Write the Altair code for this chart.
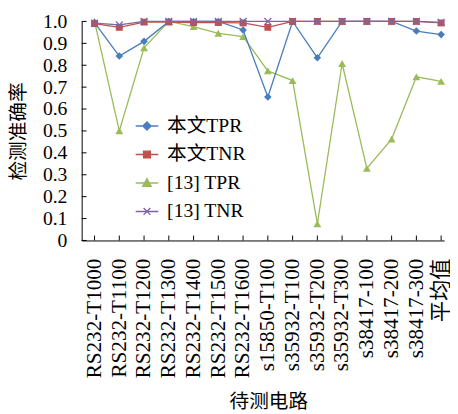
import altair as alt
import pandas as pd

categories = ["RS232-T1000", "RS232-T1100", "RS232-T1200", "RS232-T1300", "RS232-T1400",
              "RS232-T1500", "RS232-T1600", "s15850-T100", "s35932-T100", "s35932-T200",
              "s35932-T300", "s38417-100", "s38417-200", "s38417-300", "平均值"]
ours_tpr = [0.995, 0.842, 0.909, 1.0, 1.0, 1.0, 0.961, 0.655, 1.0, 0.834, 1.0, 1.0, 1.0, 0.956, 0.940]
ours_tnr = [0.990, 0.973, 0.997, 0.997, 0.995, 0.995, 0.993, 0.973, 1.0, 1.0, 1.0, 1.0, 1.0, 1.0, 0.993]
ref_tpr = [1.0, 0.500, 0.879, 1.0, 0.976, 0.946, 0.931, 0.774, 0.730, 0.076, 0.808, 0.329, 0.463, 0.747, 0.726]
ref_tnr = [0.992, 0.984, 1.0, 1.0, 1.0, 1.0, 1.0, 1.0, 1.0, 1.0, 1.0, 1.0, 1.0, 1.0, 0.996]
y_ticks = [0.0, 0.1, 0.2, 0.3, 0.4, 0.5, 0.6, 0.7, 0.8, 0.9, 1.0]

series_names = ["本文TPR", "本文TNR", "[13] TPR", "[13] TNR"]
series_values = [ours_tpr, ours_tnr, ref_tpr, ref_tnr]
colors = ["#4a7ebb", "#c0504d", "#9bbb59", "#8064a2"]
shapes = ["diamond", "square", "triangle-up", "M-1,-1L1,1M1,-1L-1,1"]
sizes = [60, 49, 64, 49]
legend_paths = [
    "M-1,0H1M0,-0.36L0.36,0L0,0.36L-0.36,0Z",
    "M-1,0H1M-0.3,-0.3H0.3V0.3H-0.3Z",
    "M-1,0H1M0,-0.38L0.38,0.3L-0.38,0.3Z",
    "M-1,0H1M-0.3,-0.3L0.3,0.3M0.3,-0.3L-0.3,0.3",
]

rows = []
for name, vals in zip(series_names, series_values):
    for i, v in enumerate(vals):
        rows.append({"idx": i + 1, "series": name, "value": v})
df = pd.DataFrame(rows)
xt_df = pd.DataFrame({"idx": list(range(1, len(categories) + 1))})
yt_df = pd.DataFrame({"value": y_ticks})

W, H = 369, 223
FONT = "'Liberation Serif', 'Noto Sans CJK SC', serif"

label_js = "[" + ",".join("'" + c + "'" for c in categories) + "]"

x_enc = alt.X(
    "idx:Q",
    scale=alt.Scale(domain=[0.48, 15.12], nice=False, zero=False),
    axis=alt.Axis(
        values=list(range(1, len(categories) + 1)),
        labelExpr=label_js + "[datum.value - 1]",
        labelAngle=270, labelAlign="right", labelBaseline="middle",
        labelPadding=18, ticks=False, grid=False, labelOverlap=False,
        labelFlush=False, labelFont=FONT, labelFontSize=21.5, labelColor="black",
        domainColor="black", domainWidth=1,
        title="待测电路", titleFont=FONT, titleFontSize=20, titleFontWeight="normal",
        titleColor="black", titleX=190, titleY=164, titleBaseline="middle",
        titleAlign="center",
    ),
)
y_axis = alt.Axis(
    values=y_ticks,
    labelExpr="datum.value == 0 ? '0' : format(datum.value, '.1f')",
    labelPadding=15, ticks=False, grid=False, labelOverlap=False, labelFlush=False,
    labelFont=FONT, labelFontSize=20, labelColor="black", labelBaseline="middle",
    domainColor="black", domainWidth=1,
    title="检测准确率", titleFont=FONT, titleFontSize=20, titleFontWeight="normal",
    titleColor="black", titleX=-64, titleY=H / 2, titleAngle=270,
    titleBaseline="middle", titleAlign="center",
)
y_enc = alt.Y("value:Q", scale=alt.Scale(domain=[0, 1], nice=False), axis=y_axis)

layers = []
# inward ticks
layers.append(
    alt.Chart(xt_df).mark_rule(color="black", strokeWidth=1).encode(
        x=x_enc, y=alt.value(H), y2=alt.value(H - 5)
    )
)
layers.append(
    alt.Chart(yt_df).mark_rule(color="black", strokeWidth=1).encode(
        y=y_enc, x=alt.value(0), x2=alt.value(5)
    )
)

draw_order = [2, 0, 1, 3]
for k in draw_order:
    name = series_names[k]
    base = alt.Chart(df).transform_filter(alt.datum.series == name)
    layers.append(base.mark_line(color=colors[k], strokeWidth=1.3).encode(x=x_enc, y=y_enc))
    if k == 3:
        pt = base.mark_point(shape=shapes[k], filled=False, color=colors[k],
                             size=sizes[k], strokeWidth=1.3, opacity=1)
    else:
        pt = base.mark_point(shape=shapes[k], filled=True, color=colors[k],
                             size=sizes[k], opacity=1)
    layers.append(pt.encode(x=x_enc, y=y_enc))

legend = alt.Legend(
    orient="none", legendX=54, legendY=94, title=None,
    labelFont=FONT, labelFontSize=20, labelColor="black", labelLimit=0,
    symbolSize=529, symbolStrokeWidth=1.4, symbolOpacity=1, labelOffset=8,
    rowPadding=6, padding=0,
)
legend_layer = alt.Chart(df).mark_point(filled=True, opacity=0).encode(
    x=x_enc, y=y_enc,
    color=alt.Color("series:N", scale=alt.Scale(domain=series_names, range=colors), legend=legend),
    stroke=alt.Stroke("series:N", scale=alt.Scale(domain=series_names, range=colors), legend=legend),
    shape=alt.Shape("series:N", scale=alt.Scale(domain=series_names, range=legend_paths), legend=legend),
)
layers.append(legend_layer)

chart = alt.layer(*layers).properties(
    width=W, height=H,
    autosize=alt.AutoSizeParams(type="none"),
    padding={"left": 75, "top": 10, "right": 6, "bottom": 173},
    background="white",
).configure_view(stroke=None).configure_legend(labelFont=FONT)

chart.save("out.html", embed_options={"renderer": "svg", "actions": False})
